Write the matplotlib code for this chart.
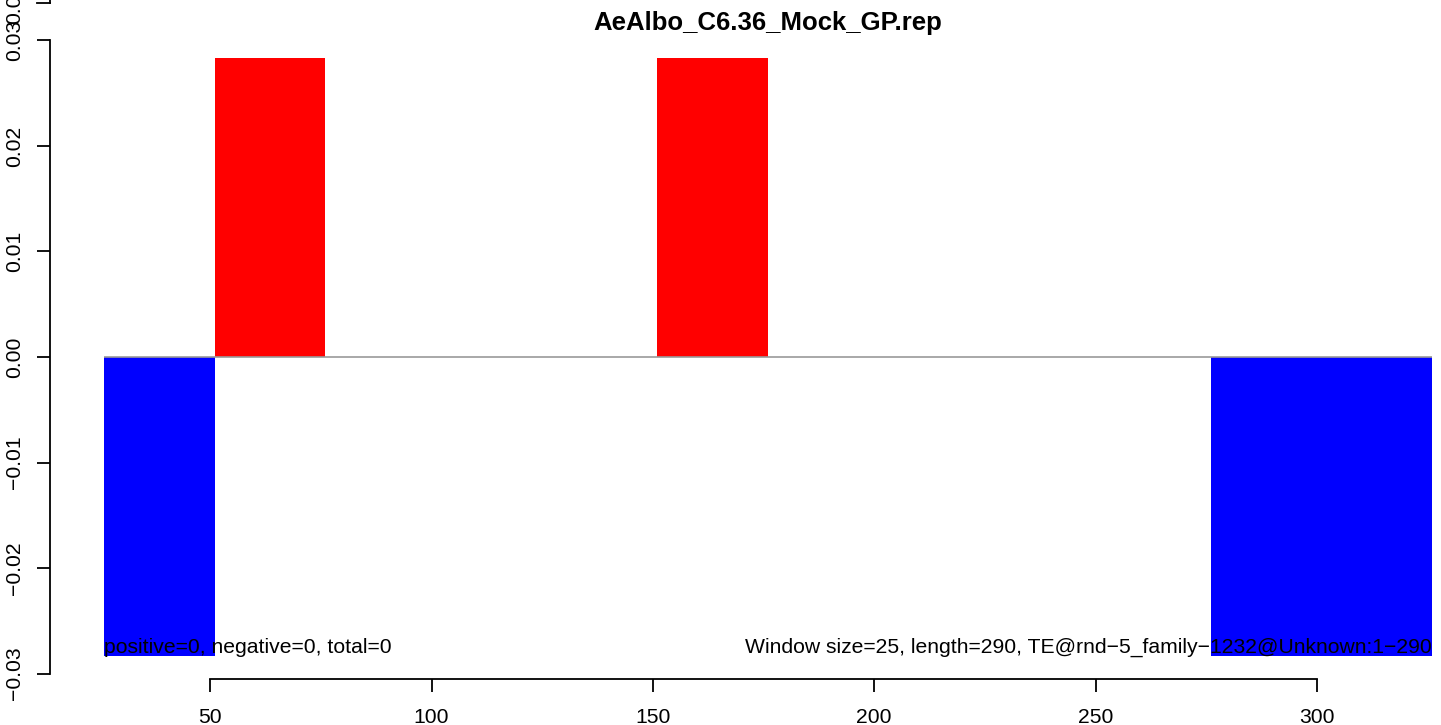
import matplotlib
matplotlib.use("Agg")
import matplotlib.pyplot as plt

# window starts and coverage values (25 bp windows)
win_start = [26, 51, 151, 276, 301]
win_value = [-0.0283, 0.0283, 0.0283, -0.0283, -0.0283]
win_size = 25

title = "AeAlbo_C6.36_Mock_GP.rep"
left_note = "positive=0, negative=0, total=0"
right_note = "Window size=25, length=290, TE@rnd\u22125_family\u22121232@Unknown:1\u2212290"

xticks = [50, 100, 150, 200, 250, 300]
yticks = [-0.03, -0.02, -0.01, 0.00, 0.01, 0.02, 0.03]

plt.rcParams['font.family'] = ['Liberation Sans', 'DejaVu Sans']

W, H = 1441, 725
fig = plt.figure(figsize=(W / 100, H / 100), dpi=100)
# plot region in pixels: x 104..1432, y 15..699
ax = fig.add_axes([104 / W, 1 - 699 / H, (1432 - 104) / W, (699 - 15) / H])
ax.set_xlim(26, 326)
ax.set_ylim(-0.0324, 0.0324)

colors = ['red' if v > 0 else 'blue' for v in win_value]
ax.bar(win_start, win_value, width=win_size, align='edge', color=colors, linewidth=0)
ax.axhline(0, color='#999999', linewidth=1.2, zorder=3)

ax.text(26, -0.02755, left_note, ha='left', va='center', fontsize=15.2, zorder=4)
ax.text(326, -0.02755, right_note, ha='right', va='center', fontsize=15.2, zorder=4)

# title sits low, overlapping the top of the plot region
fig.text(768 / W, 1 - 23 / H, title, ha='center', va='center',
         fontsize=18.5, fontweight='bold')

for s in ['top', 'right']:
    ax.spines[s].set_visible(False)
ax.spines['left'].set_position(('outward', 54 * 0.72))
ax.spines['left'].set_bounds(-0.03, 0.03)
ax.spines['bottom'].set_position(('data', -0.03048))
ax.spines['bottom'].set_bounds(50, 300)
for s in ['left', 'bottom']:
    ax.spines[s].set_linewidth(1.3)

ax.set_xticks(xticks)
ax.set_xticklabels([str(t) for t in xticks], fontsize=15.2)
ax.set_yticks(yticks)
ax.set_yticklabels([f"{t:.2f}".replace('-', '\u2212') for t in yticks], fontsize=15.2,
                   rotation=90, va='center')
ax.tick_params(axis='both', length=9.5, width=1.3, direction='out')
ax.tick_params(axis='x', pad=11.5)
ax.tick_params(axis='y', pad=9)

# stray axis piece at the very top left (partly outside the figure)
fig.add_artist(plt.Line2D([50 / W, 50 / W], [1 - 3 / H, 1.0], color='black', lw=1.3))
fig.add_artist(plt.Line2D([37 / W, 50 / W], [1 - 3 / H, 1 - 3 / H], color='black', lw=1.3))
fig.text(15 / W, 1 - 3 / H, "0.04", rotation=90, ha='center', va='center', fontsize=15.2)

fig.savefig("out.png", dpi=100)
